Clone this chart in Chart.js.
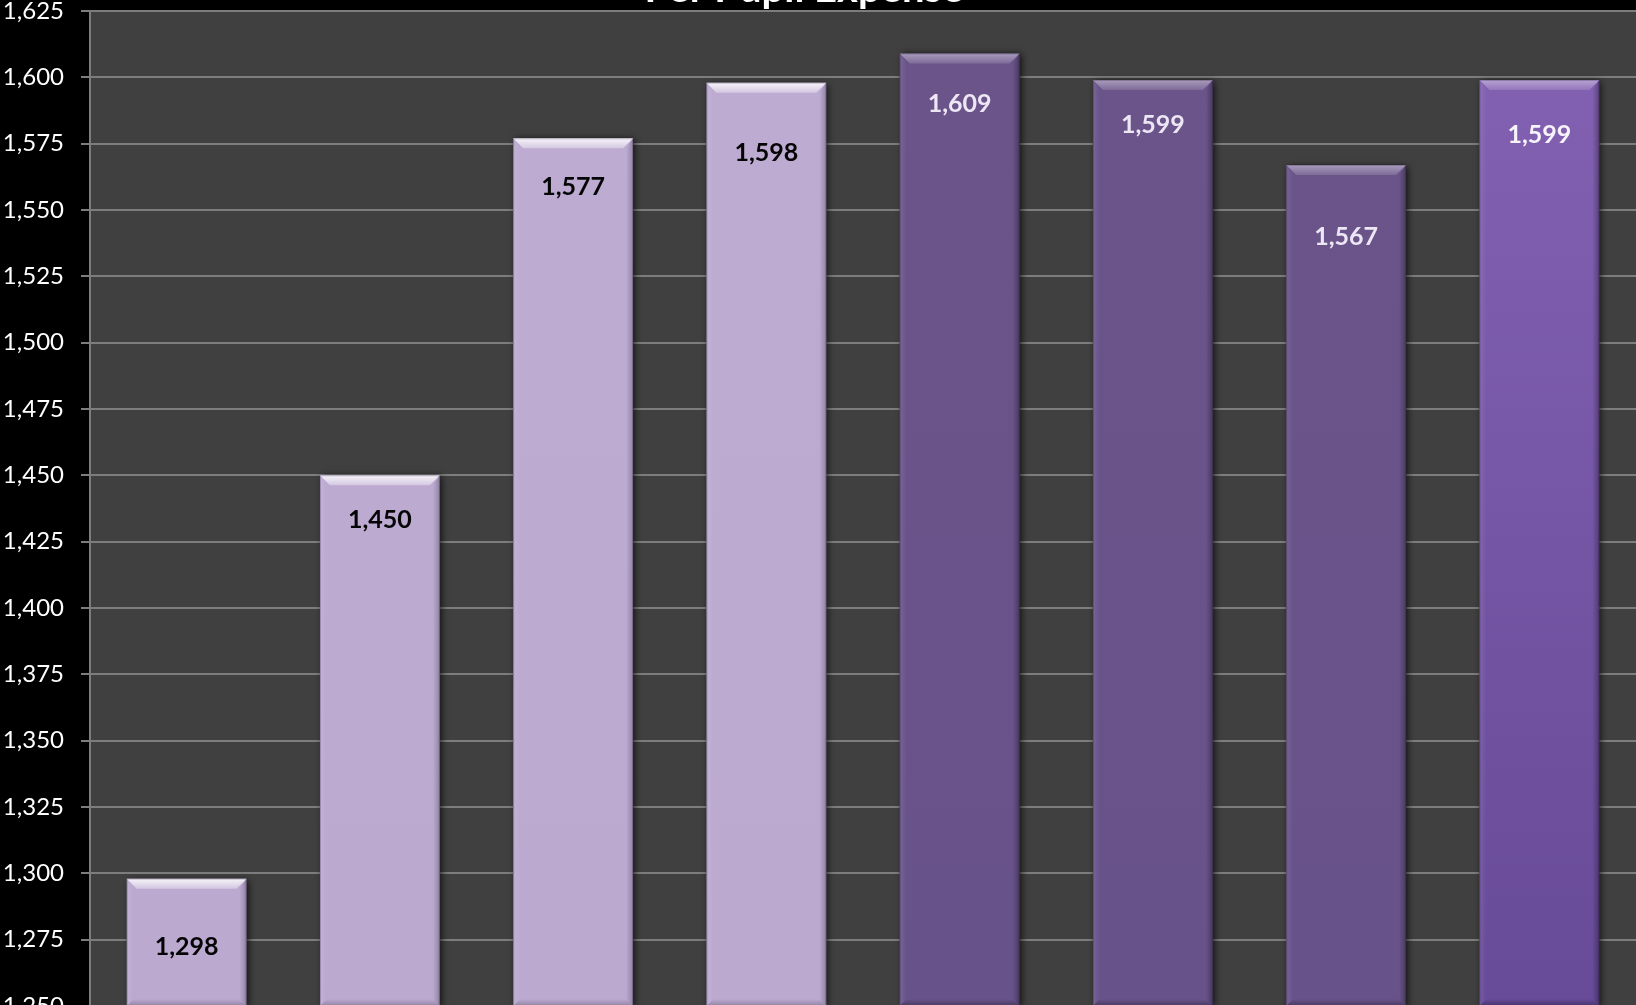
<!DOCTYPE html>
<html>
<head>
<meta charset="utf-8">
<title>Per Pupil Expense</title>
<script src="https://cdn.jsdelivr.net/npm/chart.js@4/dist/chart.umd.min.js"></script>
<style>
  html, body { margin: 0; padding: 0; background: #000; overflow: hidden; }
  canvas { display: block; }
</style>
</head>
<body>
<canvas id="chart" width="1636" height="1006"></canvas>
<script>
// ---- data ----
const categories = ['1', '2', '3', '4', '5', '6', '7', '8'];
const expense = [1298, 1450, 1577, 1598, 1609, 1599, 1567, 1599];
const yMin = 1250;
const yMax = 1625;
const yStep = 25;
const chartTitle = 'Per Pupil Expense';

// ---- styling ----
const FONT = 'Lato, "Open Sans", "DejaVu Sans", sans-serif';
const tones = [
  { face: '#bdabd2', faceBottom: '#bba9d0', text: '#050505', topA: 0.88, topB: 0.35, side: 0.10, shade: 0.22 },
  { face: '#6a5489', faceBottom: '#68528a', text: '#ece6f5', topA: 0.42, topB: 0.14, side: 0.10, shade: 0.30 },
  { face: '#8462b3', faceBottom: '#674a98', text: '#f6f3fb', topA: 0.42, topB: 0.14, side: 0.10, shade: 0.30 }
];
const toneOf = [0, 0, 0, 0, 1, 1, 1, 2];
const labelOffsets = [68, 45, 49, 70, 50, 45, 72, 55];

function barFill(ctx) {
  const chart = ctx.chart;
  const t = tones[toneOf[ctx.dataIndex]];
  const area = chart.chartArea;
  if (!area) return t.face;
  const g = chart.ctx.createLinearGradient(0, area.top, 0, area.bottom);
  g.addColorStop(0, t.face);
  g.addColorStop(1, t.faceBottom);
  return g;
}

// dark plot area behind the grid
const plotBackground = {
  id: 'plotBackground',
  beforeDraw(chart) {
    const { ctx, chartArea: a } = chart;
    ctx.save();
    ctx.fillStyle = '#404040';
    ctx.fillRect(a.left, a.top, a.right - a.left, a.bottom - a.top);
    ctx.restore();
  }
};

function clipToArea(ctx, a) {
  ctx.beginPath();
  ctx.rect(a.left, a.top - 20, a.right - a.left, a.bottom - a.top + 20);
  ctx.clip();
}

// soft shadow under each bar, then bevelled edges and value labels on top
const bevelBars = {
  id: 'bevelBars',
  beforeDatasetsDraw(chart) {
    const ctx = chart.ctx;
    const a = chart.chartArea;
    const meta = chart.getDatasetMeta(0);
    ctx.save();
    clipToArea(ctx, a);
    meta.data.forEach(bar => {
      const l = bar.x - bar.width / 2;
      const btm = Math.min(bar.base, a.bottom);
      ctx.shadowColor = 'rgba(0,0,0,0.75)';
      ctx.shadowBlur = 7;
      ctx.shadowOffsetX = 2;
      ctx.shadowOffsetY = 1;
      ctx.fillStyle = '#2a2a2a';
      ctx.fillRect(l, bar.y, bar.width, btm - bar.y);
    });
    ctx.restore();
  },
  afterDatasetsDraw(chart) {
    const ctx = chart.ctx;
    const a = chart.chartArea;
    const meta = chart.getDatasetMeta(0);
    const b = 10, s = 7;
    ctx.save();
    meta.data.forEach((bar, i) => {
      const t = tones[toneOf[i]];
      const l = bar.x - bar.width / 2, r = bar.x + bar.width / 2;
      const top = bar.y, btm = Math.min(bar.base, a.bottom);
      let g;
      // top bevel
      g = ctx.createLinearGradient(0, top, 0, top + b);
      g.addColorStop(0, `rgba(255,255,255,${t.topA})`);
      g.addColorStop(1, `rgba(255,255,255,${t.topB})`);
      ctx.fillStyle = g;
      ctx.beginPath();
      ctx.moveTo(l, top); ctx.lineTo(r, top); ctx.lineTo(r - b, top + b); ctx.lineTo(l + b, top + b);
      ctx.closePath(); ctx.fill();
      // left bevel
      g = ctx.createLinearGradient(l, 0, l + s, 0);
      g.addColorStop(0, `rgba(255,255,255,${t.side})`);
      g.addColorStop(1, 'rgba(255,255,255,0)');
      ctx.fillStyle = g;
      ctx.beginPath();
      ctx.moveTo(l, top); ctx.lineTo(l + s, top + b); ctx.lineTo(l + s, btm - s); ctx.lineTo(l, btm);
      ctx.closePath(); ctx.fill();
      // right bevel
      g = ctx.createLinearGradient(r - s, 0, r, 0);
      g.addColorStop(0, 'rgba(0,0,0,0)');
      g.addColorStop(1, `rgba(0,0,0,${t.shade})`);
      ctx.fillStyle = g;
      ctx.beginPath();
      ctx.moveTo(r, top); ctx.lineTo(r - s, top + b); ctx.lineTo(r - s, btm - s); ctx.lineTo(r, btm);
      ctx.closePath(); ctx.fill();
      // bottom bevel
      g = ctx.createLinearGradient(0, btm - s, 0, btm);
      g.addColorStop(0, 'rgba(0,0,0,0)');
      g.addColorStop(1, `rgba(0,0,0,${t.shade})`);
      ctx.fillStyle = g;
      ctx.beginPath();
      ctx.moveTo(l, btm); ctx.lineTo(l + s, btm - s); ctx.lineTo(r - s, btm - s); ctx.lineTo(r, btm);
      ctx.closePath(); ctx.fill();
      // thin outline along the edges
      ctx.strokeStyle = 'rgba(40,20,60,0.25)';
      ctx.lineWidth = 1;
      ctx.strokeRect(l + 0.5, top + 0.5, bar.width - 1, btm - top - 1);
    });
    // value labels
    ctx.font = `bold 25px ${FONT}`;
    ctx.textAlign = 'center';
    ctx.textBaseline = 'middle';
    meta.data.forEach((bar, i) => {
      const t = tones[toneOf[i]];
      ctx.fillStyle = t.text;
      ctx.fillText(expense[i].toLocaleString('en-US'), bar.x, bar.y + labelOffsets[i]);
    });
    ctx.restore();
  },
  afterDraw(chart) {
    const ctx = chart.ctx;
    ctx.save();
    ctx.font = `bold 40px ${FONT}`;
    ctx.fillStyle = '#ffffff';
    ctx.textAlign = 'center';
    ctx.textBaseline = 'alphabetic';
    ctx.fillText(chartTitle, 804, 2);
    ctx.restore();
  }
};

new Chart(document.getElementById('chart'), {
  type: 'bar',
  data: {
    labels: categories,
    datasets: [{
      data: expense,
      backgroundColor: barFill,
      borderWidth: 0,
      barPercentage: 0.62,
      categoryPercentage: 1
    }]
  },
  options: {
    responsive: false,
    animation: false,
    devicePixelRatio: 1,
    layout: { autoPadding: false, padding: { top: 11, left: 0, right: 0, bottom: 0 } },
    plugins: { legend: { display: false }, tooltip: { enabled: false }, title: { display: false } },
    scales: {
      x: { display: false },
      y: {
        min: yMin,
        max: yMax,
        ticks: {
          stepSize: yStep,
          color: '#ffffff',
          padding: 17,
          font: { family: FONT, size: 24 }
        },
        grid: { color: '#7d7d7d', lineWidth: 2, tickLength: 9, drawTicks: true },
        border: { color: '#7d7d7d', width: 2 },
        afterFit(scale) {
          // fixed axis width; let the end labels overhang the plot edges
          scale.width = 90;
          scale.paddingTop = 0;
          scale.paddingBottom = 0;
        }
      }
    }
  },
  plugins: [plotBackground, bevelBars]
});
</script>
</body>
</html>
